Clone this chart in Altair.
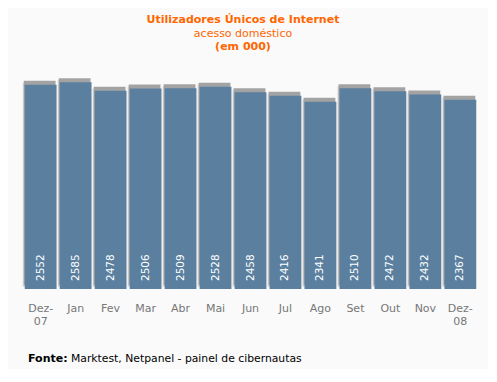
import altair as alt
import pandas as pd

months = ["Dez-07", "Jan", "Fev", "Mar", "Abr", "Mai", "Jun", "Jul", "Ago", "Set", "Out", "Nov", "Dez-08"]
values = [2552, 2585, 2478, 2506, 2509, 2528, 2458, 2416, 2341, 2510, 2472, 2432, 2367]

title_line = "Utilizadores Únicos de Internet"
subtitle_line = "acesso doméstico"
unit_line = "(em 000)"
source_bold = "Fonte:"
source_text = "Marktest, Netpanel - painel de cibernautas"

df = pd.DataFrame({"mes": months, "valor": values})

FONT = "DejaVu Sans"
BAR = "#5a7f9f"
ORANGE = "#ff6600"
W, H = 455, 240

xenc = alt.X("mes:N", sort=months,
             scale=alt.Scale(paddingInner=0.09, paddingOuter=0.05),
             axis=alt.Axis(title=None, domain=False, ticks=False, labelAngle=0,
                           labelColor="#777777", labelFont=FONT, labelFontSize=11,
                           labelPadding=13, labelLineHeight=13,
                           labelExpr="indexof(datum.value, '-') >= 0 ? [slice(datum.value, 0, indexof(datum.value, '-') + 1), slice(datum.value, indexof(datum.value, '-') + 1)] : datum.value"))
yenc = alt.Y("valor:Q", scale=alt.Scale(domain=[0, 3000]), axis=None)

base = alt.Chart(df)

shadow_light = base.mark_bar(color="#d6d6d6", xOffset=-2, yOffset=-2).encode(x=xenc, y=yenc)
shadow_dark = base.mark_bar(color="#a3a3a3", xOffset=-1, yOffset=-4).encode(x=xenc, y=yenc)
bars = base.mark_bar(color=BAR).encode(x=xenc, y=yenc)
labels = base.mark_text(angle=270, align="left", baseline="middle", dx=8,
                        color="white", font=FONT, fontSize=10.5).encode(
    x=xenc, y=alt.datum(0), text=alt.Text("valor:Q", format="d"))

def note(txt, x, y, size, bold, color, align="center"):
    return alt.Chart(pd.DataFrame({"t": [txt]})).mark_text(
        font=FONT, fontSize=size, fontWeight="bold" if bold else "normal",
        color=color, align=align, baseline="middle").encode(
        x=alt.value(x), y=alt.value(y), text="t:N")

t1 = note(title_line, 220, -29, 11, True, ORANGE)
t2 = note(subtitle_line, 220, -15, 11, False, ORANGE)
t3 = note(unit_line, 220, -2, 11, True, ORANGE)
f1 = note(source_bold, 5, 310, 11, True, "black", "left")
f2 = note(source_text, 48, 310, 10.8, False, "black", "left")

chart = alt.layer(shadow_light, shadow_dark, bars, labels, t1, t2, t3, f1, f2).properties(
    width=W, height=H,
    autosize=alt.AutoSizeParams(type="none"),
    padding={"left": 15, "top": 41, "right": 10, "bottom": 80},
    background="#fafafa",
).configure_view(stroke=None)

chart.save("out.html", embed_options={"renderer": "svg", "actions": False})
